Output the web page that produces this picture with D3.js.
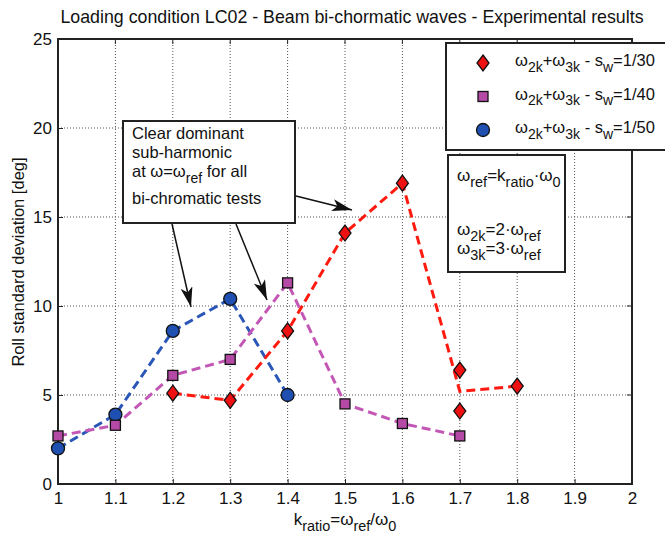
<!DOCTYPE html>
<html>
<head>
<meta charset="utf-8">
<script src="https://cdn.jsdelivr.net/npm/d3@7"></script>
<style>
  body { margin: 0; background: #fff; }
  svg { font-family: "Liberation Sans", Arial, sans-serif; }
</style>
</head>
<body>
<svg width="665" height="537"></svg>
<script>
// data
const xTicks = [1, 1.1, 1.2, 1.3, 1.4, 1.5, 1.6, 1.7, 1.8, 1.9, 2]
const yTicks = [0, 5, 10, 15, 20, 25]

const blueK = [1.0, 1.1, 1.2, 1.3, 1.4]
const blueV = [2.0, 3.9, 8.6, 10.4, 5.0]

const magK = [1.0, 1.1, 1.2, 1.3, 1.4, 1.5, 1.6, 1.7]
const magV = [2.7, 3.3, 6.1, 7.0, 11.3, 4.5, 3.4, 2.7]

// red markers (two tests at 1.7)
const redK = [1.2, 1.3, 1.4, 1.5, 1.6, 1.7, 1.7, 1.8]
const redV = [5.1, 4.7, 8.6, 14.1, 16.9, 6.4, 4.1, 5.5]
// red dashed line passes through the mean at 1.7
const redLineK = [1.2, 1.3, 1.4, 1.5, 1.6, 1.7, 1.8]
const redLineV = [5.1, 4.7, 8.6, 14.1, 16.9, 5.2, 5.5]

const svg = d3.select("svg")
const x = d3.scaleLinear().domain([1, 2]).range([58, 632])
const y = d3.scaleLinear().domain([0, 25]).range([484, 39])

// grid
svg.append("g").selectAll("line").data(xTicks.slice(1, -1)).enter().append("line")
  .attr("x1", d => x(d)).attr("x2", d => x(d)).attr("y1", y(0)).attr("y2", y(25))
  .attr("stroke", "#555").attr("stroke-width", 1).attr("stroke-dasharray", "1,2")
svg.append("g").selectAll("line").data(yTicks.slice(1, -1)).enter().append("line")
  .attr("y1", d => y(d)).attr("y2", d => y(d)).attr("x1", x(1)).attr("x2", x(2))
  .attr("stroke", "#555").attr("stroke-width", 1).attr("stroke-dasharray", "1,2")

// axes
let xAxis = svg.append("g").attr("transform", `translate(0,${y(0)})`)
  .call(d3.axisBottom(x).tickValues(xTicks).tickSize(-5).tickPadding(8).tickFormat(d3.format("")))
let yAxis = svg.append("g").attr("transform", `translate(${x(1)},0)`)
  .call(d3.axisLeft(y).tickValues(yTicks).tickSize(-5).tickPadding(6))
;[xAxis, yAxis].forEach(a => {
  a.selectAll("text").attr("font-size", 17).attr("fill", "#111").attr("font-family", "Liberation Sans, Arial, sans-serif")
  a.selectAll("line").attr("stroke", "#222")
  a.select(".domain").remove()
})
// top ticks / right ticks
svg.append("g").selectAll("line").data(xTicks).enter().append("line")
  .attr("x1", d => x(d)).attr("x2", d => x(d)).attr("y1", y(25)).attr("y2", y(25) + 5)
  .attr("stroke", "#222")
svg.append("g").selectAll("line").data(yTicks).enter().append("line")
  .attr("y1", d => y(d)).attr("y2", d => y(d)).attr("x1", x(2)).attr("x2", x(2) - 5)
  .attr("stroke", "#222")

svg.append("rect").attr("x", x(1)).attr("y", y(25))
  .attr("width", x(2) - x(1)).attr("height", y(0) - y(25))
  .attr("fill", "none").attr("stroke", "#222").attr("stroke-width", 2)

// lines
const line = d3.line().x(d => x(d[0])).y(d => y(d[1]))
function drawLine(ks, vs, color) {
  svg.append("path").datum(d3.zip(ks, vs)).attr("d", line)
    .attr("fill", "none").attr("stroke", color).attr("stroke-width", 3)
    .attr("stroke-dasharray", "9,5")
}
drawLine(blueK, blueV, "#2a56b8")
drawLine(magK, magV, "#c257b5")
drawLine(redLineK, redLineV, "#ff1a10")

// markers
const diamond = "M0,-8L6,0L0,8L-6,0Z"
function drawMarkers(ks, vs, kind, fill) {
  let g = svg.append("g")
  d3.zip(ks, vs).forEach(p => {
    let cx = x(p[0]), cy = y(p[1])
    if (kind === "circle") {
      g.append("circle").attr("cx", cx).attr("cy", cy).attr("r", 6.5)
        .attr("fill", fill).attr("stroke", "#111").attr("stroke-width", 1.3)
    } else if (kind === "square") {
      g.append("rect").attr("x", cx - 5).attr("y", cy - 5).attr("width", 10).attr("height", 10)
        .attr("fill", fill).attr("stroke", "#111").attr("stroke-width", 1.3)
    } else {
      g.append("path").attr("d", diamond).attr("transform", `translate(${cx},${cy})`)
        .attr("fill", fill).attr("stroke", "#111").attr("stroke-width", 1.3)
    }
  })
}
drawMarkers(blueK, blueV, "circle", "#1f4fb0")
drawMarkers(magK, magV, "square", "#b44aa6")
drawMarkers(redK, redV, "diamond", "#ee1111")

// title and axis labels
svg.append("text").attr("x", 352).attr("y", 23).attr("text-anchor", "middle")
  .attr("font-size", 17.8).attr("fill", "#111")
  .text("Loading condition LC02 - Beam bi-chormatic waves - Experimental results")

svg.append("text").attr("transform", "translate(24,262) rotate(-90)").attr("text-anchor", "middle")
  .attr("font-size", 16.5).attr("fill", "#111").text("Roll standard deviation [deg]")

// helper to write text with subscripts: parts = [[text, sub?], ...]
function richText(parent, px, py, parts, size, anchor) {
  let t = parent.append("text").attr("x", px).attr("y", py).attr("font-size", size)
    .attr("fill", "#111").attr("text-anchor", anchor || "start")
  let inSub = false
  parts.forEach(p => {
    let s = t.append("tspan").text(p[0])
    if (p[1] && !inSub) { s.attr("dy", size * 0.35).attr("font-size", size * 0.85); inSub = true }
    else if (p[1]) { s.attr("font-size", size * 0.85) }
    else if (!p[1] && inSub) { s.attr("dy", -size * 0.35); inSub = false }
  })
  return t
}

richText(svg, 345, 525, [["k"], ["ratio", 1], ["=ω"], ["ref", 1], ["/ω"], ["0", 1]], 17, "middle")

// legend
svg.append("rect").attr("x", 446).attr("y", 43).attr("width", 230).attr("height", 107)
  .attr("fill", "#fff").attr("stroke", "#222").attr("stroke-width", 2)
const legRows = [
  ["diamond", "#ee1111", "1/30"],
  ["square", "#b44aa6", "1/40"],
  ["circle", "#1f4fb0", "1/50"]
]
legRows.forEach((r, i) => {
  let cy = 63 + i * 33.5
  if (r[0] === "circle") svg.append("circle").attr("cx", 483).attr("cy", cy).attr("r", 6.5)
    .attr("fill", r[1]).attr("stroke", "#111").attr("stroke-width", 1.3)
  else if (r[0] === "square") svg.append("rect").attr("x", 478).attr("y", cy - 5).attr("width", 10).attr("height", 10)
    .attr("fill", r[1]).attr("stroke", "#111").attr("stroke-width", 1.3)
  else svg.append("path").attr("d", diamond).attr("transform", `translate(483,${cy})`)
    .attr("fill", r[1]).attr("stroke", "#111").attr("stroke-width", 1.3)
  richText(svg, 515, cy + 3, [["ω"], ["2k", 1], ["+ω"], ["3k", 1], [" - s"], ["w", 1], ["=" + r[2]]], 16.5)
})

// definitions box
svg.append("rect").attr("x", 448).attr("y", 155).attr("width", 117).attr("height", 117)
  .attr("fill", "#fff").attr("stroke", "#222").attr("stroke-width", 2)
richText(svg, 457, 181, [["ω"], ["ref", 1], ["=k"], ["ratio", 1], ["·ω"], ["0", 1]], 17)
richText(svg, 457, 235, [["ω"], ["2k", 1], ["=2·ω"], ["ref", 1]], 17)
richText(svg, 457, 254, [["ω"], ["3k", 1], ["=3·ω"], ["ref", 1]], 17)

// annotation box
svg.append("rect").attr("x", 123).attr("y", 121).attr("width", 172).attr("height", 102)
  .attr("fill", "#fff").attr("stroke", "#222").attr("stroke-width", 2)
const ann = svg.append("g").attr("font-size", 16.5).attr("fill", "#111")
ann.append("text").attr("x", 132).attr("y", 139).text("Clear dominant")
ann.append("text").attr("x", 132).attr("y", 158).text("sub-harmonic")
richText(svg, 132, 177, [["at ω=ω"], ["ref", 1], [" for all"]], 16.5)
ann.append("text").attr("x", 132).attr("y", 204).text("bi-chromatic tests")

// arrows
svg.append("defs").append("marker").attr("id", "arr").attr("viewBox", "0 0 20 12")
  .attr("refX", 20).attr("refY", 6).attr("markerWidth", 20).attr("markerHeight", 12)
  .attr("markerUnits", "userSpaceOnUse").attr("orient", "auto")
  .append("path").attr("d", "M0,0L20,6L0,12L5,6Z").attr("fill", "#111")
const arrows = [
  [172, 224, 191, 307],
  [236, 224, 267, 300],
  [296, 196, 352, 210]
]
svg.append("g").selectAll("line").data(arrows).enter().append("line")
  .attr("x1", d => d[0]).attr("y1", d => d[1]).attr("x2", d => d[2]).attr("y2", d => d[3])
  .attr("stroke", "#111").attr("stroke-width", 1.5).attr("marker-end", "url(#arr)")
</script>
</body>
</html>
